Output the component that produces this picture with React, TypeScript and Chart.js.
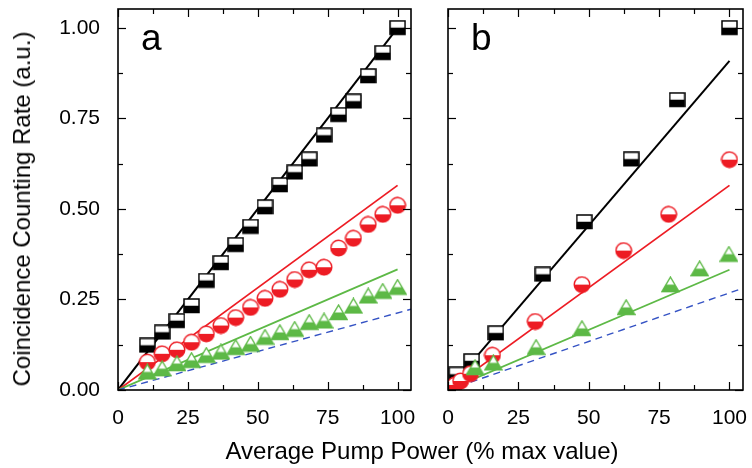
import React, { useEffect, useRef } from "react";
import { Chart, registerables } from "chart.js";
Chart.register(...registerables);

// ---------- axes ----------
const X_TICKS = [0, 25, 50, 75, 100];
const X_MINOR = [12.5, 37.5, 62.5, 87.5];
const Y_TICKS = [0, 0.25, 0.5, 0.75, 1.0];
const Y_MINOR = [0.125, 0.375, 0.625, 0.875];
const X_MAX = 104.8;
const Y_MAX = 1.052;

// ---------- panel a ----------
const A_X = [10.5, 15.8, 21.1, 26.3, 31.6, 36.8, 42.1, 47.4, 52.6, 57.9, 63.2, 68.4, 73.7, 78.9, 84.2, 89.5, 94.7, 100];
const A_SQUARES = [0.123, 0.159, 0.191, 0.232, 0.302, 0.351, 0.401, 0.451, 0.505, 0.566, 0.601, 0.637, 0.703, 0.76, 0.797, 0.867, 0.931, 1.0];
const A_CIRCLES = [0.077, 0.1, 0.111, 0.132, 0.155, 0.178, 0.2, 0.228, 0.253, 0.278, 0.305, 0.332, 0.339, 0.392, 0.419, 0.457, 0.485, 0.51];
const A_TRIANGLES = [0.05, 0.059, 0.073, 0.082, 0.096, 0.105, 0.118, 0.127, 0.146, 0.159, 0.168, 0.187, 0.191, 0.214, 0.232, 0.26, 0.273, 0.284];
const A_FIT_X = [0, 100];
const A_FIT_BLACK = [0, 1.0];
const A_FIT_RED = [0, 0.565];
const A_FIT_GREEN = [0, 0.333];
const A_DASH_X = [0, 104.8];
const A_DASH = [0, 0.223];

// ---------- panel b ----------
const B_SQ_X = [3.1, 8.4, 17.0, 33.7, 48.4, 65.1, 81.4, 100];
const B_SQUARES = [0.043, 0.08, 0.157, 0.319, 0.464, 0.637, 0.801, 1.0];
const B_CIR_X = [2.5, 4.5, 8.0, 15.8, 31.0, 47.6, 62.4, 78.4, 100];
const B_CIRCLES = [0.014, 0.025, 0.045, 0.096, 0.189, 0.291, 0.385, 0.485, 0.636];
const B_TRI_X = [9.6, 16.1, 31.3, 47.6, 63.3, 79.0, 89.4, 99.8];
const B_TRIANGLES = [0.062, 0.075, 0.118, 0.17, 0.228, 0.291, 0.335, 0.375];
const B_FIT_X = [0, 100];
const B_FIT_BLACK = [0, 0.909];
const B_FIT_RED = [0, 0.565];
const B_FIT_GREEN = [0, 0.332];
const B_DASH_X = [0, 104.8];
const B_DASH = [0, 0.281];

const BLACK = "#000000";
const RED = "#ED1C24";
const GREEN = "#5DB946";
const BLUE = "#3553C4";
const FONT = "'Liberation Sans', Arial, sans-serif";

const pts = (xs: number[], ys: number[]) => xs.map((x, i) => ({ x, y: ys[i] }));

function makeSquare(): HTMLCanvasElement {
  const c = document.createElement("canvas");
  c.width = 17; c.height = 16;
  const g = c.getContext("2d")!;
  const x0 = 1, y0 = 1, w = 15, h = 13.5;
  g.fillStyle = "#fff"; g.fillRect(x0, y0, w, h);
  g.fillStyle = BLACK; g.fillRect(x0, y0 + h / 2, w, h / 2);
  g.strokeStyle = BLACK; g.lineWidth = 1.5; g.strokeRect(x0, y0, w, h);
  return c;
}
function makeCircle(): HTMLCanvasElement {
  const c = document.createElement("canvas");
  c.width = 18; c.height = 18;
  const g = c.getContext("2d")!;
  const r = 7.8;
  g.save();
  g.beginPath(); g.arc(9, 9, r, 0, Math.PI * 2); g.clip();
  g.fillStyle = "#fff"; g.fillRect(0, 0, 18, 18);
  g.fillStyle = RED; g.fillRect(0, 9, 18, 9);
  g.restore();
  g.beginPath(); g.arc(9, 9, r, 0, Math.PI * 2);
  g.strokeStyle = RED; g.lineWidth = 1.4; g.stroke();
  return c;
}
function makeTriangle(): HTMLCanvasElement {
  const c = document.createElement("canvas");
  c.width = 19; c.height = 17;
  const g = c.getContext("2d")!;
  const path = () => { g.beginPath(); g.moveTo(9.5, 1); g.lineTo(18, 15.5); g.lineTo(1, 15.5); g.closePath(); };
  g.save(); path(); g.clip();
  g.fillStyle = "#fff"; g.fillRect(0, 0, 19, 17);
  g.fillStyle = GREEN; g.fillRect(0, 8.5, 19, 9);
  g.restore();
  path(); g.strokeStyle = GREEN; g.lineWidth = 1.4; g.lineJoin = "miter"; g.stroke();
  return c;
}

const framePlugin = {
  id: "frame",
  afterDraw(chart: any) {
    const { ctx, chartArea: a } = chart;
    const x = chart.scales.x, y = chart.scales.y;
    ctx.save();
    ctx.strokeStyle = "#000";
    ctx.lineWidth = 1.2;
    const xt = (vals: number[], len: number) => vals.forEach((v) => {
      const p = Math.round(x.getPixelForValue(v)) + 0.5;
      ctx.beginPath(); ctx.moveTo(p, a.bottom); ctx.lineTo(p, a.bottom - len); ctx.stroke();
      ctx.beginPath(); ctx.moveTo(p, a.top); ctx.lineTo(p, a.top + len); ctx.stroke();
    });
    const yt = (vals: number[], len: number) => vals.forEach((v) => {
      const p = Math.round(y.getPixelForValue(v)) + 0.5;
      ctx.beginPath(); ctx.moveTo(a.left, p); ctx.lineTo(a.left + len, p); ctx.stroke();
      ctx.beginPath(); ctx.moveTo(a.right, p); ctx.lineTo(a.right - len, p); ctx.stroke();
    });
    xt(X_TICKS, 8); xt(X_MINOR, 5);
    yt(Y_TICKS, 8); yt(Y_MINOR, 5);
    ctx.lineWidth = 1.6;
    ctx.strokeRect(a.left, a.top, a.right - a.left, a.bottom - a.top);
    const label = chart.options.plugins.frame.label;
    ctx.fillStyle = "#000";
    ctx.font = `37px ${FONT}`;
    ctx.textBaseline = "alphabetic";
    ctx.textAlign = "left";
    ctx.fillText(label, a.left + 23, 50);
    ctx.restore();
  },
};

function buildConfig(opts: {
  label: string; yLabels: boolean; yWidth: number; padRight: number;
  sq: any[]; ci: any[]; tr: any[]; fb: any[]; fr: any[]; fg: any[]; dash: any[];
}): any {
  const sqImg = makeSquare(), ciImg = makeCircle(), trImg = makeTriangle();
  const lineDs = (data: any[], color: string, width: number, dash: number[] = []) => ({
    data, showLine: true, borderColor: color, borderWidth: width, borderDash: dash,
    pointRadius: 0, fill: false, order: 1,
  });
  const markDs = (data: any[], img: HTMLCanvasElement) => ({
    data, showLine: false, pointStyle: img, pointRadius: 8, order: 0,
  });
  const zeroPad = (s: any) => { s.paddingTop = 0; s.paddingBottom = 0; s.paddingLeft = 0; s.paddingRight = 0; };
  return {
    type: "scatter",
    data: {
      datasets: [
        lineDs(opts.dash, BLUE, 1.4, [7, 5]),
        markDs(opts.tr, trImg),
        markDs(opts.ci, ciImg),
        markDs(opts.sq, sqImg),
        lineDs(opts.fg, GREEN, 1.8),
        lineDs(opts.fr, RED, 1.8),
        lineDs(opts.fb, BLACK, 2),
      ],
    },
    options: {
      responsive: false,
      animation: false,
      devicePixelRatio: 1,
      layout: { padding: { top: 5, right: opts.padRight, left: 0, bottom: 0 } },
      plugins: { legend: { display: false }, tooltip: { enabled: false }, frame: { label: opts.label } },
      scales: {
        x: {
          type: "linear", min: 0, max: X_MAX,
          afterBuildTicks: (s: any) => { s.ticks = X_TICKS.map((value) => ({ value })); },
          afterFit: (s: any) => { s.height = 78; zeroPad(s); },
          grid: { display: false }, border: { display: false },
          ticks: { color: "#000", font: { family: FONT, size: 21 }, padding: 8, maxRotation: 0, autoSkip: false,
            callback: (v: any) => String(v) },
        },
        y: {
          type: "linear", min: 0, max: Y_MAX,
          afterBuildTicks: (s: any) => { s.ticks = Y_TICKS.map((value) => ({ value })); },
          afterFit: (s: any) => { s.width = opts.yWidth; zeroPad(s); },
          grid: { display: false }, border: { display: false },
          ticks: { display: opts.yLabels, color: "#000", font: { family: FONT, size: 21 }, padding: 10,
            callback: (v: any) => Number(v).toFixed(2) },
        },
      },
    },
    plugins: [framePlugin],
  };
}

export default function App() {
  const refA = useRef<HTMLCanvasElement>(null);
  const refB = useRef<HTMLCanvasElement>(null);
  useEffect(() => {
    const ca = new Chart(refA.current!, buildConfig({
      label: "a", yLabels: true, yWidth: 118, padRight: 7,
      sq: pts(A_X, A_SQUARES), ci: pts(A_X, A_CIRCLES), tr: pts(A_X, A_TRIANGLES),
      fb: pts(A_FIT_X, A_FIT_BLACK), fr: pts(A_FIT_X, A_FIT_RED), fg: pts(A_FIT_X, A_FIT_GREEN),
      dash: pts(A_DASH_X, A_DASH),
    }));
    const cb = new Chart(refB.current!, buildConfig({
      label: "b", yLabels: false, yWidth: 28, padRight: 9,
      sq: pts(B_SQ_X, B_SQUARES), ci: pts(B_CIR_X, B_CIRCLES), tr: pts(B_TRI_X, B_TRIANGLES),
      fb: pts(B_FIT_X, B_FIT_BLACK), fr: pts(B_FIT_X, B_FIT_RED), fg: pts(B_FIT_X, B_FIT_GREEN),
      dash: pts(B_DASH_X, B_DASH),
    }));
    return () => { ca.destroy(); cb.destroy(); };
  }, []);
  return (
    <div style={{ position: "absolute", left: 0, top: 0, width: 752, height: 468, background: "#fff", overflow: "hidden" }}>
      <canvas ref={refA} width={420} height={468} style={{ position: "absolute", left: 0, top: 0 }} />
      <canvas ref={refB} width={332} height={468} style={{ position: "absolute", left: 420, top: 0 }} />
      <div style={{ position: "absolute", left: 22, top: 209, transform: "translate(-50%, -50%) rotate(-90deg)",
        whiteSpace: "nowrap", fontFamily: FONT, fontSize: 24, lineHeight: "26px", color: "#000" }}>
        Coincidence Counting Rate (a.u.)
      </div>
      <div style={{ position: "absolute", left: 122, width: 600, top: 437, textAlign: "center",
        whiteSpace: "nowrap", fontFamily: FONT, fontSize: 24, lineHeight: "28px", color: "#000" }}>
        Average Pump Power (% max value)
      </div>
    </div>
  );
}
